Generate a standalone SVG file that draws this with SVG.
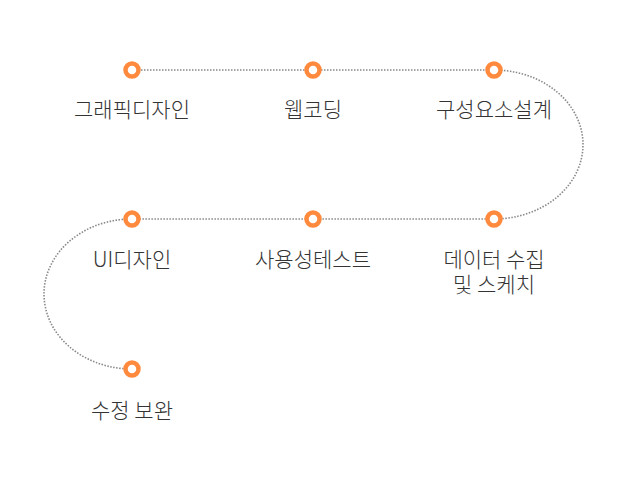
<svg xmlns="http://www.w3.org/2000/svg" width="627" height="478" viewBox="0 0 627 478">
<style>
.c{fill:#fff;stroke:#ff8a3d;stroke-width:4.5}
.l{fill:none;stroke:#888;stroke-width:1.6;stroke-dasharray:1.5 1.5}
.t{font-family:"Noto Sans CJK KR","Noto Sans",sans-serif;font-size:21px;font-weight:300;fill:#333;text-anchor:middle}
</style>
<rect width="627" height="478" fill="#fff"/>
<g id="connectors">
<path class="l" d="M132,70 H494 A89,74.5 0 0 1 494,219 H132 A88,75 0 0 0 132,369"/>
</g>
<g id="n1"><circle class="c" cx="132" cy="70" r="6.5"/><text class="t" x="132" y="117">그래픽디자인</text></g>
<g id="n2"><circle class="c" cx="313" cy="70" r="6.5"/><text class="t" x="313" y="117">웹코딩</text></g>
<g id="n3"><circle class="c" cx="494" cy="70" r="6.5"/><text class="t" x="494" y="117">구성요소설계</text></g>
<g id="n4"><circle class="c" cx="494" cy="219" r="6.5"/><text class="t" x="494" y="267">데이터 수집</text><text class="t" x="494" y="292">및 스케치</text></g>
<g id="n5"><circle class="c" cx="313" cy="219" r="6.5"/><text class="t" x="313" y="267">사용성테스트</text></g>
<g id="n6"><circle class="c" cx="132" cy="219" r="6.5"/><text class="t" x="132" y="267">UI디자인</text></g>
<g id="n7"><circle class="c" cx="132" cy="369" r="6.5"/><text class="t" x="132" y="418">수정 보완</text></g>
</svg>
